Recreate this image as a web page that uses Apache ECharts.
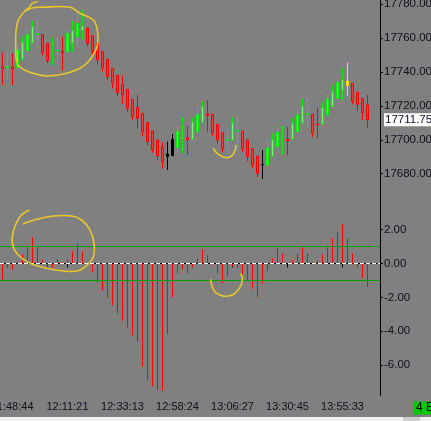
<!DOCTYPE html>
<html><head><meta charset="utf-8">
<script src="https://cdn.jsdelivr.net/npm/echarts@6/dist/echarts.min.js"></script>
<style>html,body{margin:0;padding:0;background:#808080;overflow:hidden}#c{width:431px;height:421px}</style>
</head><body><div id="c"></div>
<script>
// ---- data ----
const tickLabels = ['11:48:44','12:11:21','12:33:13','12:58:24','13:06:27','13:30:45','13:55:33'];
const tickIndex = [2,13,24,35,46,57,68];
const opens  = [17743,17742.5,17743,17742.7,17747.4,17752.5,17757.2,17762,17762.1,17756.8,17752.2,17752.3,17752.3,17752,17757.2,17760.7,17764.3,17765.7,17761.3,17756.8,17751.9,17747.4,17742.1,17738,17732.7,17729.7,17723.8,17719.1,17715.6,17710.3,17705.1,17699.8,17695.9,17691.6,17690.6,17695.5,17701,17701.2,17700.2,17704.8,17710.3,17715.2,17715,17709.1,17704.4,17699.8,17699.8,17705.1,17705.1,17699.8,17694.9,17690.4,17685.5,17685.1,17690,17695.9,17701.2,17700.4,17700.2,17704.8,17709.7,17714.8,17715,17709.3,17709.1,17714.6,17719.5,17724.4,17729.3,17732,17733.2,17728,17724.4,17720.5];
const closes = [17742,17743.2,17742,17752.9,17757.4,17762.1,17766.6,17762.5,17751.5,17746.6,17752.7,17752.8,17751.3,17762.7,17764.3,17768.6,17767,17756.8,17751.9,17747,17742.7,17737.2,17733.6,17727.7,17726.4,17718.5,17713.6,17712.6,17704.8,17698.9,17694,17690.6,17687.1,17690.2,17700.2,17704.8,17701.5,17700,17710.7,17715,17719.5,17714.2,17703.8,17699.8,17694.9,17700.3,17710,17705.5,17694.9,17690,17685.1,17680.2,17685.1,17695.3,17700.2,17704.4,17701.7,17699.4,17709.7,17714.6,17719.9,17715.3,17703.8,17708.7,17718.9,17724,17728.7,17733.8,17735.2,17734.6,17722.4,17720.9,17716.1,17711.75];
const lows   = [17732.3,17735.2,17732.3,17742,17747,17752,17756.8,17754.3,17749.7,17745.4,17744,17745,17740.7,17751.8,17752,17755.8,17759.2,17754.9,17750,17744.6,17740.1,17735.2,17730.3,17725.8,17721.5,17716.5,17711.6,17706.7,17701.8,17696.9,17692.4,17687.7,17683.1,17682.2,17690.4,17692,17692.4,17691,17700,17704.6,17710.1,17704.8,17702.2,17697.5,17692.4,17691,17699.6,17693,17693,17687.5,17683.1,17678.2,17676.9,17684.9,17689.8,17695.7,17691,17691,17700,17704.6,17709.5,17706.7,17701.8,17700.8,17708.9,17714.4,17719.3,17724.2,17723.4,17726,17721,17716.9,17711.6,17707.1];
const highs  = [17751.3,17752.3,17751,17755.8,17760.7,17765,17770,17770.6,17762.3,17757,17760.4,17761,17760.7,17765,17770,17774.9,17776.5,17765.9,17761.5,17757,17752.1,17747.6,17742.3,17738.2,17738,17729.9,17724,17726.4,17715.8,17710.5,17705.3,17700,17698.3,17698.9,17703.4,17708.1,17713,17708.1,17713,17717.5,17722.5,17723.4,17715.2,17709.3,17704.6,17706.3,17713,17714.6,17705.3,17700,17695.1,17690.6,17694,17698.9,17703.8,17707.7,17708.1,17707.7,17712.6,17718.5,17724.4,17724.4,17715.2,17719.1,17722,17727.3,17732.3,17736.2,17741.7,17745.4,17733.4,17728.2,17724.6,17726.4];
const histValues = [-0.94,-0.27,-0.35,0.08,0.53,1.06,1.55,0.96,0.24,-0.31,-0.22,0.27,0.08,0.27,0.73,1.2,0.71,-0.1,-0.51,-1.1,-1.59,-2.04,-2.47,-2.96,-3.39,-3.8,-4.24,-4.63,-6.1,-6.88,-7.27,-7.47,-7.53,-4.18,-1.98,-0.57,-0.37,-0.57,-0.22,0.31,0.82,0.47,-0.08,-0.61,-1.16,-0.76,-0.16,-0.27,-0.65,-1.0,-1.49,-1.98,-1.2,-0.45,0.31,0.9,0.57,-0.02,0.18,0.57,0.96,0.61,0.04,0.18,0.53,0.96,1.49,1.88,2.37,1.49,0.61,-0.22,-0.86,-1.39];
const priceTicks = [17680,17700,17720,17740,17760,17780];
const histTicks = [2,0,-2,-4,-6];
const bandLevels = [1,-1];

// ---- styling ----
const blackBars = [33,34,52];
const highlightBar = 69;
const n = opens.length;
const categories = [];
for (let i = 0; i < n + 2; i++) {
  const k = tickIndex.indexOf(i);
  categories.push(k >= 0 ? tickLabels[k] : '');
}
function candleStyle(i) {
  let fill, border;
  if (blackBars.includes(i)) { fill = '#000'; border = '#000'; }
  else if (i === highlightBar) { fill = '#ffee00'; border = '#ffe600'; }
  else if (closes[i] >= opens[i]) { fill = '#66ff66'; border = '#00f000'; }
  else { fill = '#ff3a3a'; border = '#ff0000'; }
  return {color: fill, color0: fill, borderColor: border, borderColor0: border, borderWidth: 1};
}
const candleData = opens.map((o, i) => ({value: [o, closes[i], lows[i], highs[i]], itemStyle: candleStyle(i)}));

const txt = '#10101e';
const fontF = '"Liberation Sans", Arial, sans-serif';
const isTick = (idx) => tickIndex.includes(idx);
const yellow = '#e9c62c';

const chart = echarts.init(document.getElementById('c'), null, {renderer: 'canvas'});
chart.setOption({
  animation: false,
  backgroundColor: '#808080',
  grid: [
    {left: 0, top: 0, width: 380, height: 205, outerBoundsMode: 'none', containLabel: false},
    {left: 0, top: 205, width: 380, height: 190.7, outerBoundsMode: 'none', containLabel: false}
  ],
  xAxis: [
    {type: 'category', gridIndex: 0, data: categories, show: false, boundaryGap: true},
    {type: 'category', gridIndex: 1, data: categories, boundaryGap: true,
     axisLine: {show: true, lineStyle: {color: '#000', width: 1}},
     axisTick: {show: true, alignWithLabel: true, length: 4, interval: (i) => isTick(i), lineStyle: {color: '#000'}},
     axisLabel: {show: true, interval: (i) => isTick(i), margin: 6, color: txt, fontSize: 11, fontFamily: fontF, hideOverlap: false},
     splitLine: {show: false}}
  ],
  yAxis: [
    {type: 'value', gridIndex: 0, position: 'right', min: 17661.56, max: 17782.36, scale: true,
     axisLine: {show: true, lineStyle: {color: '#000'}},
     axisTick: {show: true, length: 3, customValues: priceTicks, lineStyle: {color: '#000'}},
     axisLabel: {customValues: priceTicks, formatter: (v) => v.toFixed(2), margin: 4, color: txt, fontSize: 11.5, fontFamily: fontF},
     splitLine: {show: false}},
    {type: 'value', gridIndex: 1, position: 'right', min: -7.813, max: 3.457,
     axisLine: {show: true, lineStyle: {color: '#000'}},
     axisTick: {show: true, length: 3, customValues: histTicks, lineStyle: {color: '#000'}},
     axisLabel: {customValues: histTicks, formatter: (v) => v.toFixed(2), margin: 4, color: txt, fontSize: 11.5, fontFamily: fontF},
     splitLine: {show: false}}
  ],
  series: [
    {type: 'candlestick', xAxisIndex: 0, yAxisIndex: 0, data: candleData, barWidth: 3, clip: false,
     markLine: {silent: true, symbol: 'none',
       lineStyle: {color: 'rgba(0,0,0,0)', width: 1, type: 'solid'},
       label: {show: true, position: 'end', distance: 4, formatter: (p) => Number(p.value).toFixed(2), backgroundColor: '#ffffff', color: '#0c0c2a',
               padding: [1, 3, 0, 1], fontSize: 11.5, fontFamily: fontF},
       data: [{yAxis: closes[n - 1]}]}},
    {type: 'bar', xAxisIndex: 1, yAxisIndex: 1, data: histValues, barWidth: 1,
     itemStyle: {color: '#ff0000'},
     markLine: {silent: true, symbol: 'none', label: {show: false},
       data: [
         {yAxis: bandLevels[0], lineStyle: {color: '#00a000', width: 1, type: 'solid'}},
         {yAxis: bandLevels[1], lineStyle: {color: '#00a000', width: 1, type: 'solid'}},
         {yAxis: 0, lineStyle: {color: '#ffffff', width: 1, type: [4, 2]}}
       ]}}
  ],
  graphic: [
    {type: 'polyline', silent: true, z: 100, shape: {smooth: 0.4, points: [[37.7,1.7],[32.3,3.3],[29.3,7.3],[25,11],[32,8],[40,7.3],[70,7.3],[80,13.3],[93.3,20],[97.3,30],[97.7,43.3],[95,51.7],[88.3,61.7],[80,68.3],[66.7,73.3],[46.7,76],[33.3,73.3],[21.7,68.3],[16.7,61.7],[15.7,46.7],[16,31.7],[18.3,20],[25,11]]},
     style: {stroke: yellow, lineWidth: 1.6, fill: null}},
    {type: 'polyline', silent: true, z: 100, shape: {smooth: 0.5, points: [[213.3,148.3],[218.3,154.3],[226.7,157.7],[233.3,154],[236,145]]},
     style: {stroke: yellow, lineWidth: 1.6, fill: null}},
    {type: 'polyline', silent: true, z: 100, shape: {smooth: 0.4, points: [[22.7,224],[36.7,219.3],[53.3,216],[71.7,216],[81.7,220],[90,230],[94,243.3],[93.3,256.7],[87.3,265],[78.3,270.7],[63.3,271],[46.7,268.3],[30,263.3],[18.3,255],[12.7,245],[13.3,231.7],[20,216.7],[29.3,210]]},
     style: {stroke: yellow, lineWidth: 1.6, fill: null}},
    {type: 'polyline', silent: true, z: 100, shape: {smooth: 0.5, points: [[210.7,279.3],[213.3,289.3],[220,295],[228.3,296],[236.7,291.7],[241.7,283.3],[242,276],[240,274.3]]},
     style: {stroke: yellow, lineWidth: 1.6, fill: null}},
    {type: 'rect', silent: true, shape: {x: 0, y: 417, width: 431, height: 4}, style: {fill: '#f0f0f0'}},
    {type: 'rect', silent: true, shape: {x: 403, y: 417, width: 17, height: 4}, style: {fill: '#cdcdcd'}},
    {type: 'rect', silent: true, shape: {x: 414, y: 401.5, width: 17, height: 13}, style: {fill: '#00c800'}},
    {type: 'text', silent: true, x: 416, y: 402, style: {text: '4 E', fill: '#000', font: '12px "Liberation Sans", Arial, sans-serif'}}
  ]
});
</script></body></html>
